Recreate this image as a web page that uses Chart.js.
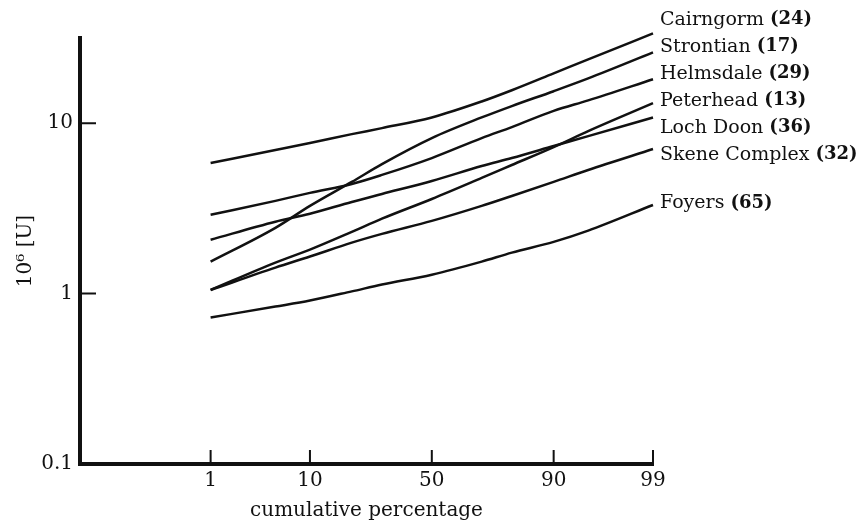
<!DOCTYPE html>
<html>
<head>
<meta charset="utf-8">
<script src="https://cdn.jsdelivr.net/npm/chart.js@4.4.1/dist/chart.umd.min.js"></script>
<style>
  html, body { margin: 0; padding: 0; background: #fff; }
  #wrap { width: 865px; height: 524px; position: relative; }
</style>
</head>
<body>
<div id="wrap"><canvas id="chart"></canvas></div>
<script>
// cumulative percentages at which the curves were read
const PCT = [1, 5, 10, 20, 30, 50, 70, 80, 90, 95, 99];
const X_TICKS = [1, 10, 50, 90, 99];
const Y_TICKS = [0.1, 1, 10];

const NAMES  = ['Cairngorm', 'Strontian', 'Helmsdale', 'Peterhead', 'Loch Doon', 'Skene Complex', 'Foyers'];
const COUNTS = [24, 17, 29, 13, 36, 32, 65];

// 10^6 [U], one value per PCT entry
const cairngorm = [5.83, 6.95, 7.64, 8.62, 9.35, 10.8, 13.4, 15.6, 19.6, 23.7, 33.6];
const strontian = [1.54, 2.43, 3.27, 4.52, 5.75, 8.17, 10.8, 12.6, 15.4, 18.3, 26.0];
const helmsdale = [2.90, 3.50, 3.90, 4.40, 4.97, 6.24, 8.17, 9.48, 11.8, 13.6, 18.1];
const peterhead = [1.05, 1.52, 1.81, 2.30, 2.75, 3.59, 4.77, 5.68, 7.24, 8.98, 13.1];
const lochDoon  = [2.07, 2.64, 2.94, 3.45, 3.84, 4.58, 5.60, 6.24, 7.34, 8.39, 10.8];
const skene     = [1.05, 1.42, 1.65, 1.99, 2.24, 2.67, 3.27, 3.74, 4.52, 5.31, 7.05];
const foyers    = [0.724, 0.839, 0.910, 1.03, 1.13, 1.29, 1.54, 1.74, 2.01, 2.34, 3.31];

const SERIES = [cairngorm, strontian, helmsdale, peterhead, lochDoon, skene, foyers];

const FONT = "'DejaVu Serif', 'Liberation Serif', serif";
const INK = '#111';

// probability paper: percentage -> normal quantile (Acklam)
function probit(p) {
  const a = [-3.969683028665376e+01, 2.209460984245205e+02, -2.759285104469687e+02, 1.383577518672690e+02, -3.066479806614716e+01, 2.506628277459239e+00];
  const b = [-5.447609879822406e+01, 1.615858368580409e+02, -1.556989798598866e+02, 6.680131188771972e+01, -1.328068155288572e+01];
  const c = [-7.784894002430293e-03, -3.223964580411365e-01, -2.400758277161838e+00, -2.549732539343734e+00, 4.374664141464968e+00, 2.938163982698783e+00];
  const d = [7.784695709041462e-03, 3.224671290700398e-01, 2.445134137142996e+00, 3.754408661907416e+00];
  const pl = 0.02425;
  let q, r;
  if (p < pl) {
    q = Math.sqrt(-2 * Math.log(p));
    return (((((c[0]*q+c[1])*q+c[2])*q+c[3])*q+c[4])*q+c[5]) / ((((d[0]*q+d[1])*q+d[2])*q+d[3])*q+1);
  }
  if (p <= 1 - pl) {
    q = p - 0.5; r = q * q;
    return (((((a[0]*r+a[1])*r+a[2])*r+a[3])*r+a[4])*r+a[5])*q / (((((b[0]*r+b[1])*r+b[2])*r+b[3])*r+b[4])*r+1);
  }
  q = Math.sqrt(-2 * Math.log(1 - p));
  return -(((((c[0]*q+c[1])*q+c[2])*q+c[3])*q+c[4])*q+c[5]) / ((((d[0]*q+d[1])*q+d[2])*q+d[3])*q+1);
}

// stack end labels so they don't overlap
function spreadLabels(ys, gap) {
  const items = ys.map((y, i) => ({ i, y })).sort((a, b) => a.y - b.y);
  const groups = items.map(it => ({ members: [it], top: it.y }));
  let changed = true;
  while (changed) {
    changed = false;
    for (let k = 0; k < groups.length - 1; k++) {
      const g = groups[k], h = groups[k + 1];
      if (g.top + g.members.length * gap > h.top) {
        const members = g.members.concat(h.members);
        const mean = members.reduce((s, m) => s + m.y, 0) / members.length;
        groups.splice(k, 2, { members, top: mean - (members.length - 1) * gap / 2 });
        changed = true;
        break;
      }
    }
  }
  const out = [];
  groups.forEach(g => g.members.forEach((m, j) => { out[m.i] = g.top + j * gap; }));
  return out;
}

// tick marks point into the plot
const innerTicks = {
  id: 'innerTicks',
  afterDraw(chart) {
    const { ctx, chartArea, scales } = chart;
    ctx.save();
    ctx.strokeStyle = INK;
    ctx.lineWidth = 2;
    ctx.beginPath();
    X_TICKS.forEach(p => {
      const x = scales.x.getPixelForValue(probit(p / 100));
      ctx.moveTo(x, chartArea.bottom);
      ctx.lineTo(x, chartArea.bottom - 14);
    });
    Y_TICKS.slice(1).forEach(v => {
      const y = scales.y.getPixelForValue(v);
      ctx.moveTo(chartArea.left, y);
      ctx.lineTo(chartArea.left + 16, y);
    });
    ctx.stroke();
    ctx.restore();
  }
};

const endLabels = {
  id: 'endLabels',
  afterDatasetsDraw(chart) {
    const { ctx } = chart;
    const ends = chart.data.datasets.map((ds, i) => {
      const pts = chart.getDatasetMeta(i).data;
      return pts[pts.length - 1];
    });
    const ys = spreadLabels(ends.map(p => p.y), 27);
    ctx.save();
    ctx.fillStyle = INK;
    ctx.textBaseline = 'middle';
    ctx.textAlign = 'left';
    ends.forEach((p, i) => {
      const x = p.x + 7;
      const y = ys[i] - 2;
      ctx.font = '19px ' + FONT;
      const name = NAMES[i] + ' ';
      ctx.fillText(name, x, y);
      const w = ctx.measureText(name).width;
      ctx.font = 'bold 18px ' + FONT;
      ctx.fillText('(' + COUNTS[i] + ')', x + w, y);
    });
    ctx.restore();
  }
};

const datasets = SERIES.map((vals, i) => ({
  label: NAMES[i],
  data: vals.map((v, k) => ({ x: probit(PCT[k] / 100), y: v })),
  borderColor: INK,
  borderWidth: 2.5,
  pointRadius: 0,
  fill: false,
  cubicInterpolationMode: 'monotone',
  clip: false
}));

new Chart(document.getElementById('chart').getContext('2d'), {
  type: 'line',
  data: { datasets },
  options: {
    responsive: true,
    maintainAspectRatio: false,
    animation: false,
    layout: { padding: { top: 38, right: 212, left: 0, bottom: 0 } },
    plugins: { legend: { display: false }, tooltip: { enabled: false } },
    scales: {
      x: {
        type: 'linear',
        min: -3.7,
        max: probit(0.99),
        afterBuildTicks: s => { s.ticks = X_TICKS.map(p => ({ value: probit(p / 100) })); },
        afterFit: s => { s.height = 60; },
        grid: { display: false, drawTicks: false },
        border: { display: true, color: INK, width: 4 },
        ticks: {
          autoSkip: false, maxRotation: 0, padding: 5, color: INK,
          font: { family: FONT, size: 20 },
          callback: (v, i) => String(X_TICKS[i])
        },
        title: {
          display: true, text: 'cumulative percentage', color: INK,
          font: { family: FONT, size: 20 }, padding: { top: 0, bottom: 1 }
        }
      },
      y: {
        type: 'logarithmic',
        min: 0.1,
        max: 31.6,
        afterBuildTicks: s => { s.ticks = Y_TICKS.map(v => ({ value: v })); },
        afterFit: s => { s.width = 80; },
        grid: { display: false, drawTicks: false },
        border: { display: true, color: INK, width: 4 },
        ticks: {
          padding: 7, color: INK,
          font: { family: FONT, size: 20 },
          callback: v => String(v)
        },
        title: {
          display: true, text: '10\u2076 [U]', color: INK,
          font: { family: FONT, size: 20 }, padding: { top: 14, bottom: 0 }
        }
      }
    }
  },
  plugins: [innerTicks, endLabels]
});
</script>
</body>
</html>
